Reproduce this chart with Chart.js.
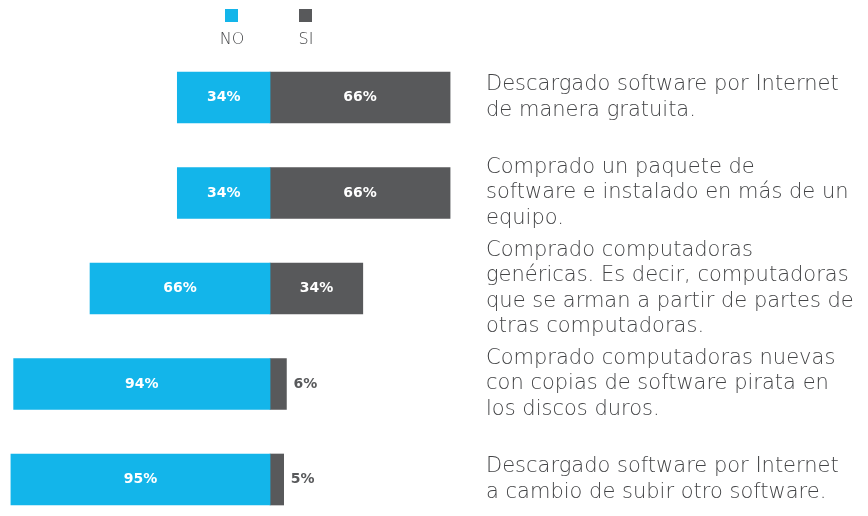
<!DOCTYPE html>
<html>
<head>
<meta charset="utf-8">
<script src="https://cdn.jsdelivr.net/npm/chart.js@4.4.0/dist/chart.umd.min.js"></script>
<style>
html,body{margin:0;padding:0;background:#fff;overflow:hidden}
#wrap{position:relative;width:868px;height:516px}
</style>
</head>
<body>
<div id="wrap"><canvas id="chart"></canvas></div>
<script>

/* =========================
   DATA
========================= */

let categories = [
["Descargado software por Internet","de manera gratuita."],
["Comprado un paquete de","software e instalado en más de un","equipo."],
["Comprado computadoras","genéricas. Es decir, computadoras","que se arman a partir de partes de","otras computadoras."],
["Comprado computadoras nuevas","con copias de software pirata en","los discos duros."],
["Descargado software por Internet","a cambio de subir otro software."]
]

let seriesNames = ["NO","SI"]
let noValues = [34,34,66,94,95]
let siValues = [66,66,34,6,5]

let blue = "#13b5ea"
let gray = "#58595b"
let textGray = "#434446"
let fontFam = "'DejaVu Sans'"

/* =========================
   PLUGINS
========================= */

/* legend: square on top, name below */
let topLegend = {
id:"topLegend",
afterDraw(chart){
let ctx = chart.ctx
let centers = [232,306]
ctx.save()
chart.data.datasets.forEach((ds,i)=>{
let cx = centers[i]
ctx.fillStyle = ds.backgroundColor
ctx.fillRect(cx-7,9,13,13)
ctx.fillStyle = textGray
ctx.font = "200 16px "+fontFam
ctx.textAlign = "center"
ctx.textBaseline = "middle"
ctx.fillText(ds.label,cx,40)
})
ctx.restore()
}
}

/* percent labels in / next to the bars */
let valueLabels = {
id:"valueLabels",
afterDatasetsDraw(chart){
let ctx = chart.ctx
ctx.save()
ctx.font = "bold 14px "+fontFam
ctx.textBaseline = "middle"
chart.data.datasets.forEach((ds,i)=>{
let meta = chart.getDatasetMeta(i)
let raw = i===0 ? noValues : siValues
meta.data.forEach((bar,j)=>{
let w = Math.abs(bar.x-bar.base)
let txt = raw[j]+"%"
if(w>40){
ctx.fillStyle = "#ffffff"
ctx.textAlign = "center"
ctx.fillText(txt,(bar.x+bar.base)/2,bar.y)
}else{
ctx.fillStyle = gray
ctx.textAlign = "left"
ctx.fillText(txt,Math.max(bar.x,bar.base)+7,bar.y)
}
})
})
ctx.restore()
}
}

/* =========================
   CHART
========================= */

let ctx = document.getElementById("chart").getContext("2d")

let chart = new Chart(ctx,{
type:"bar",
data:{
labels:categories,
datasets:[
{
label:seriesNames[0],
data:noValues.map(v=>-v),
backgroundColor:blue,
barThickness:51,
clip:false
},
{
label:seriesNames[1],
data:siValues,
backgroundColor:gray,
barThickness:51,
clip:false
}
]
},
options:{
indexAxis:"y",
responsive:true,
maintainAspectRatio:false,
animation:false,
layout:{padding:{top:97.5,bottom:36.5,left:0,right:0}},
plugins:{
legend:{display:false},
tooltip:{enabled:false}
},
scales:{
x:{
display:false,
stacked:true,
min:-99,
max:75.5
},
y:{
stacked:true,
offset:false,
position:"right",
grid:{display:false,drawTicks:false},
border:{display:false},
afterFit(scale){ scale.width = 392 },
ticks:{
autoSkip:false,
padding:10,
color:textGray,
font:{family:fontFam,size:21,weight:"200",lineHeight:1.2}
}
}
}
},
plugins:[topLegend,valueLabels]
})

</script>
</body>
</html>
